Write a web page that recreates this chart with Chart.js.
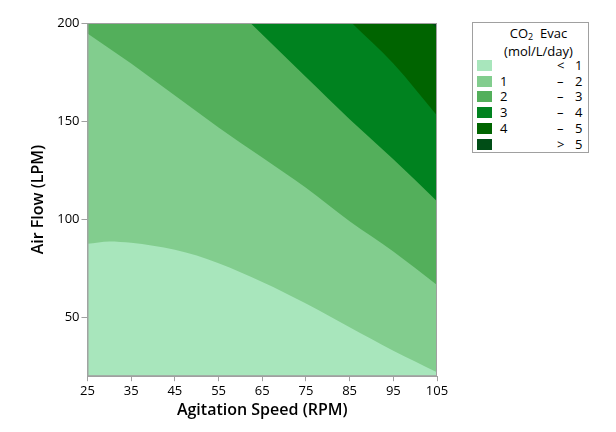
<!DOCTYPE html>
<html>
<head>
<meta charset="utf-8">
<script src="https://cdn.jsdelivr.net/npm/chart.js@4/dist/chart.umd.min.js"></script>
<style>
  html, body { margin: 0; padding: 0; background: #fff; }
  #wrap { position: relative; width: 616px; height: 432px; }
  #legend {
    position: absolute; left: 472px; top: 22px; width: 117px; height: 131px;
    border: 1px solid #a0a0a0; background: #fff;
    font-family: "Open Sans", "Noto Sans", sans-serif; font-size: 13px; color: #000;
    box-sizing: border-box;
  }
  #legend .ttl { text-align: center; line-height: 15px; margin-top: 3px; padding-left: 16px; }
  #legend .row { position: absolute; left: 4px; height: 12px; width: 110px; }
  #legend .sw { position: absolute; left: 0; top: 0; width: 15px; height: 11px; }
  #legend .lo { position: absolute; left: 23px; top: -4px; }
  #legend .op { position: absolute; left: 80px; top: -4px; }
  #legend .hi { position: absolute; left: 98px; top: -4px; }
</style>
</head>
<body>
<div id="wrap">
  <canvas id="contour" width="616" height="432"></canvas>
  <div id="legend">
    <div class="ttl">CO<sub style="font-size:9px;vertical-align:-2px">2</sub>&nbsp; Evac<br>(mol/L/day)</div>
  </div>
</div>
<script>
// ejes
const speedTicks = [25, 35, 45, 55, 65, 75, 85, 95, 105];
const flowTicks = [50, 100, 150, 200];
const flowMin = 20;

// contorno 1 (limite entre < 1 y 1 - 2)
const speedB1 = [25, 30, 35, 40, 45, 50, 55, 60, 65, 70, 75, 80, 85, 90, 95, 100, 105];
const flowB1 = [87.5, 88.7, 88, 86.5, 84.5, 81.5, 77.5, 73, 68, 62.7, 57, 51, 45, 39, 33, 27.5, 22];
// contorno 2
const speedB2 = [25, 35, 45, 55, 65, 75, 85, 95, 105];
const flowB2 = [194.7, 179.3, 163, 146.8, 131.4, 116, 99, 83.6, 66.5];
// contorno 3
const speedB3 = [62.3, 75, 85, 95, 105];
const flowB3 = [200, 172.5, 151, 130.6, 109.2];
// contorno 4
const speedB4 = [85.5, 95, 105];
const flowB4 = [200, 179.3, 152.8];
// contorno 5
const speedB5 = [103.7, 105];
const flowB5 = [200, 197.3];

// leyenda
const legendLow = ["", "1", "2", "3", "4", ""];
const legendOp = ["<", "–", "–", "–", "–", ">"];
const legendHigh = ["1", "2", "3", "4", "5", "5"];
const colores = ["#a8e6bc", "#82cd8e", "#53af5b", "#00821f", "#006400", "#004d16"];

function puntos(xs, ys) {
  return xs.map((x, i) => ({ x: x, y: ys[i] }));
}

// capas: la mas oscura primero para que se pinte encima
const capas = [
  { data: puntos(speedB5, flowB5), color: colores[5] },
  { data: puntos(speedB4, flowB4), color: colores[4] },
  { data: puntos(speedB3, flowB3), color: colores[3] },
  { data: puntos(speedB2, flowB2), color: colores[2] },
  { data: puntos(speedB1, flowB1), color: colores[1] },
  { data: [{ x: speedTicks[0], y: flowMin }, { x: speedTicks[speedTicks.length - 1], y: flowMin }], color: colores[0] },
];

// marco gris alrededor del area
const marco = {
  id: "marco",
  afterDatasetsDraw(chart) {
    const a = chart.chartArea;
    const ctx = chart.ctx;
    ctx.save();
    ctx.strokeStyle = "#a0a0a0";
    ctx.lineWidth = 1;
    ctx.strokeRect(a.left + 0.5, a.top + 0.5, a.right - a.left - 1, a.bottom - a.top - 1);
    ctx.restore();
  },
};

const fuente = "'Open Sans', 'Noto Sans', sans-serif";

new Chart(document.getElementById("contour").getContext("2d"), {
  type: "line",
  data: {
    datasets: capas.map((c) => ({
      data: c.data,
      backgroundColor: c.color,
      borderColor: c.color,
      borderWidth: 0,
      pointRadius: 0,
      fill: "end",
      cubicInterpolationMode: "monotone",
    })),
  },
  options: {
    responsive: false,
    animation: false,
    events: [],
    layout: {
      padding: { left: 29, right: 179, top: 23, bottom: 12 },
    },
    scales: {
      x: {
        type: "linear",
        min: speedTicks[0],
        max: speedTicks[speedTicks.length - 1],
        afterBuildTicks: (axis) => {
          axis.ticks = speedTicks.map((v) => ({ value: v }));
        },
        grid: { drawOnChartArea: false, drawTicks: true, tickLength: 5, color: "#a0a0a0" },
        border: { display: true, color: "#a0a0a0" },
        ticks: { color: "#000", padding: 2, font: { family: fuente, size: 13 }, maxRotation: 0 },
        title: {
          display: true,
          text: "Agitation Speed (RPM)",
          color: "#000",
          padding: { top: 0, bottom: 0 },
          font: { family: fuente, size: 16, weight: "600" },
        },
      },
      y: {
        type: "linear",
        min: flowMin,
        max: flowTicks[flowTicks.length - 1],
        afterBuildTicks: (axis) => {
          axis.ticks = flowTicks.map((v) => ({ value: v }));
        },
        grid: { drawOnChartArea: false, drawTicks: true, tickLength: 6, color: "#a0a0a0" },
        border: { display: true, color: "#a0a0a0" },
        ticks: { color: "#000", padding: 2, font: { family: fuente, size: 13 } },
        title: {
          display: true,
          text: "Air Flow (LPM)",
          color: "#000",
          padding: { top: 0, bottom: 7 },
          font: { family: fuente, size: 16, weight: "600" },
        },
      },
    },
    plugins: {
      legend: { display: false },
      tooltip: { enabled: false },
    },
  },
  plugins: [marco],
});

// leyenda html
const caja = document.getElementById("legend");
colores.forEach((c, i) => {
  const fila = document.createElement("div");
  fila.className = "row";
  fila.style.top = (37 + i * 15.7) + "px";
  fila.innerHTML =
    '<div class="sw" style="background:' + c + '"></div>' +
    '<span class="lo">' + legendLow[i] + '</span>' +
    '<span class="op">' + legendOp[i] + '</span>' +
    '<span class="hi">' + legendHigh[i] + '</span>';
  caja.appendChild(fila);
});
</script>
</body>
</html>
